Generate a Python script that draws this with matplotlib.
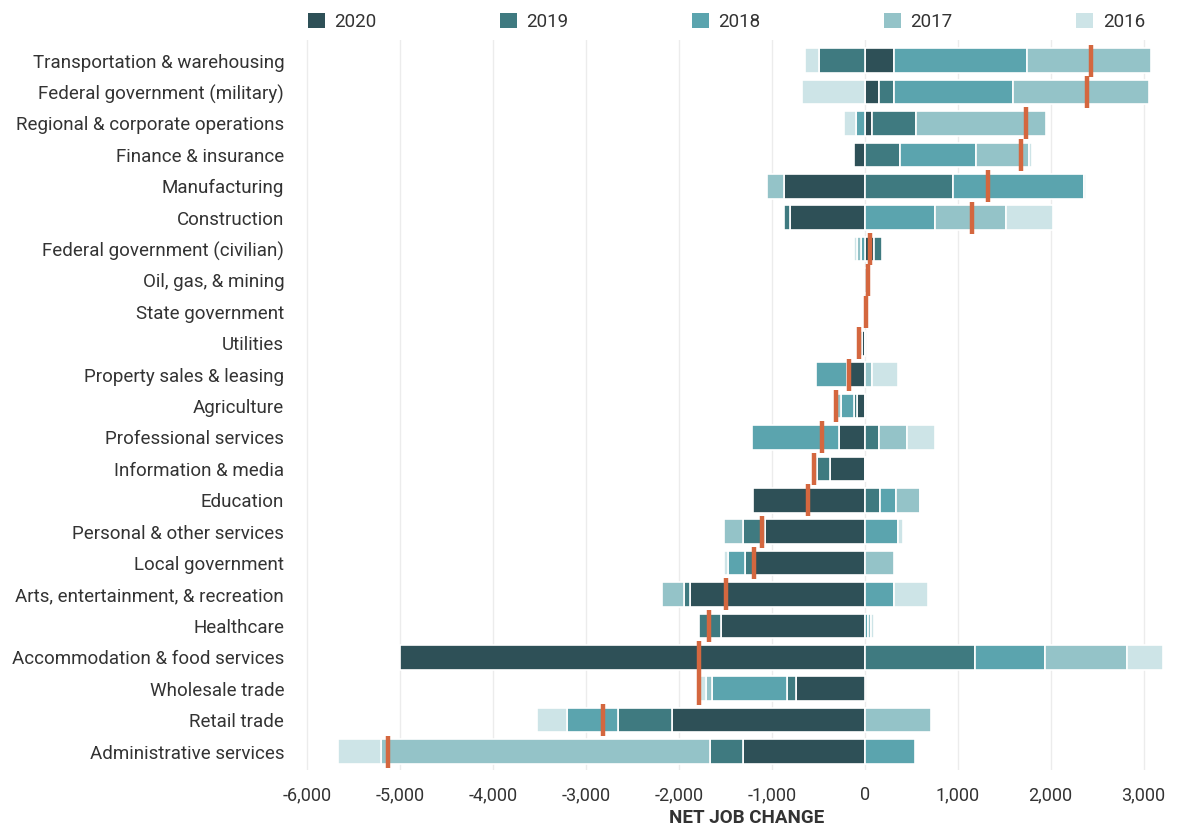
import matplotlib

matplotlib.use("Agg")
import matplotlib.pyplot as plt
from matplotlib.patches import Patch
from matplotlib.ticker import FuncFormatter, MultipleLocator

# ── data (top row first) ────────────────────────────────────────────────────
categories = [
    "Transportation & warehousing",
    "Federal government (military)",
    "Regional & corporate operations",
    "Finance & insurance",
    "Manufacturing",
    "Construction",
    "Federal government (civilian)",
    "Oil, gas, & mining",
    "State government",
    "Utilities",
    "Property sales & leasing",
    "Agriculture",
    "Professional services",
    "Information & media",
    "Education",
    "Personal & other services",
    "Local government",
    "Arts, entertainment, & recreation",
    "Healthcare",
    "Accommodation & food services",
    "Wholesale trade",
    "Retail trade",
    "Administrative services",
]

years = ["2020", "2019", "2018", "2017", "2016"]

jobs_2020 = [312, 150, 83, -118, -867, -806, 100, 20, 8, -30, -161, -80, -280,
             -376, -1204, -1076, -1189, -1885, -1545, -5000, -745, -2077, -1314]
jobs_2019 = [-491, 160, 466, 376, 950, -61, 80, 16, 0, -20, -30, -40, 154,
             -135, 159, -236, -96, -57, -236, 1190, -90, -575, -357]
jobs_2018 = [1433, 1283, -90, 817, 1409, 760, -39, 0, 0, -15, -336, -140, -932,
             -50, 172, 358, -191, 316, 35, 752, -813, -557, 537]
jobs_2017 = [1337, 1470, 1405, 573, -183, 763, -40, 0, 0, 0, 75, -45, 301,
             0, 267, -199, 316, -237, 35, 877, -61, 710, -3535]
jobs_2016 = [-154, -674, -133, 32, 20, 502, -40, 0, 0, 0, 283, 0, 298,
             12, 0, 50, -34, 367, 30, 394, -72, -316, -459]

series = [jobs_2020, jobs_2019, jobs_2018, jobs_2017, jobs_2016]

# ── styling ─────────────────────────────────────────────────────────────────
YEAR_COLORS = ["#2e5057", "#3f7a80", "#5ba4ae", "#94c3c8", "#cde4e7"]
NET_COLOR = "#d4673f"
TEXT_COLOR = "#333333"
GRID_COLOR = "#ececec"

plt.rcParams["font.family"] = ["Roboto", "DejaVu Sans"]

fig = plt.figure(figsize=(11.97, 8.25), dpi=100)
ax = fig.add_axes([0.249, 0.067, 0.749, 0.885])

y = list(range(len(categories)))
pos_left = [0.0] * len(categories)
neg_left = [0.0] * len(categories)

# stack each year outward from zero (2020 innermost)
for vals, color in zip(series, YEAR_COLORS):
    lefts = []
    for i, v in enumerate(vals):
        if v >= 0:
            lefts.append(pos_left[i])
            pos_left[i] += v
        else:
            lefts.append(neg_left[i])
            neg_left[i] += v
    ax.barh(y, vals, left=lefts, height=0.78, color=color,
            edgecolor="white", linewidth=1.2, zorder=3)

# net change marker
net = [sum(s[i] for s in series) for i in range(len(categories))]
ax.plot(net, y, linestyle="none", marker="|", markersize=23,
        markeredgewidth=3.2, color=NET_COLOR, zorder=5)

ax.set_xlim(-6100, 3550)
ax.set_ylim(len(categories) - 0.42, -0.67)
ax.set_yticks(y)
ax.set_yticklabels(categories, fontsize=13.5, color=TEXT_COLOR)
ax.xaxis.set_major_locator(MultipleLocator(1000))
ax.xaxis.set_major_formatter(FuncFormatter(lambda v, _: f"{int(v):,}"))
ax.tick_params(axis="x", labelsize=13, colors=TEXT_COLOR, length=0, pad=12)
ax.tick_params(axis="y", length=0, pad=10)
ax.grid(axis="x", color=GRID_COLOR, linewidth=1, zorder=0)
for side in ["top", "right", "left", "bottom"]:
    ax.spines[side].set_visible(False)

ax.set_xlabel("NET JOB CHANGE", fontsize=13.5, fontweight="bold",
              color=TEXT_COLOR)
ax.xaxis.set_label_coords(0.5, -0.054)

handles = [Patch(facecolor=c, edgecolor="none") for c in YEAR_COLORS]
fig.legend(handles, years, loc="upper left", bbox_to_anchor=(0.243, 1.005),
           ncol=5, frameon=False, fontsize=13.5, handlelength=0.9,
           handleheight=0.9, handletextpad=0.5, columnspacing=6.6,
           labelcolor=TEXT_COLOR)

fig.savefig("out.png", dpi=100)
